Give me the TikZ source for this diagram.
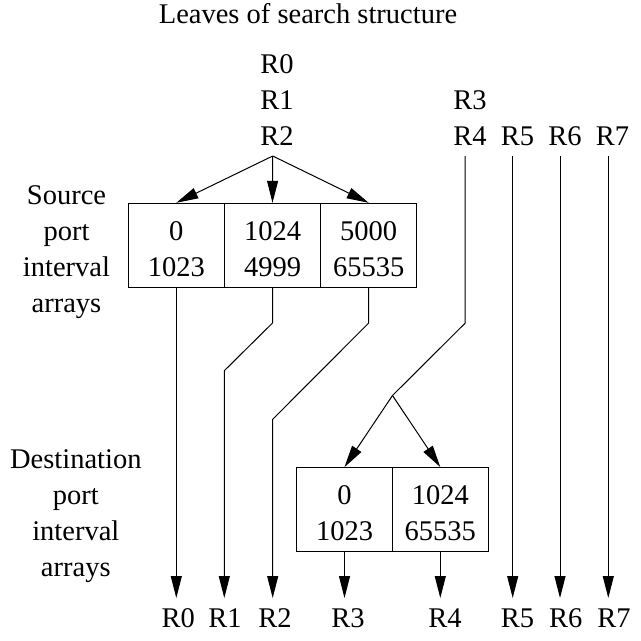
\documentclass[tikz,border=0pt]{standalone}
\usepackage{fontspec}
\setmainfont{Liberation Serif}
\usetikzlibrary{arrows.meta}
\begin{document}
\begin{tikzpicture}[x=1pt,y=-1pt,line width=1pt,
  every node/.style={font=\fontsize{28.5}{36}\selectfont,inner sep=0pt},
  lbl/.style={anchor=base},
  cell/.style={draw,minimum width=96pt,minimum height=84pt,align=center,text height=62.5pt},
  arr/.style={-{Triangle[length=22pt,width=11pt]}}]
\useasboundingbox (0,0) rectangle (641,641);
% title
\node[lbl] (title) at (308,23.3) {Leaves of search structure};
% top labels
\node[lbl] (r0) at (277,73) {R0};
\node[lbl] (r1) at (277,109) {R1};
\node[lbl] (r2) at (277,145) {R2};
\node[lbl] (r3) at (470,109) {R3};
\node[lbl] (r4) at (470,145) {R4};
\node[lbl] (r5) at (517.5,145) {R5};
\node[lbl] (r6) at (565,145) {R6};
\node[lbl] (r7) at (612.5,145) {R7};
% left labels
\node[lbl] (sa) at (66.5,204.5) {Source};
\node[lbl] (sb) at (66.5,240.5) {port};
\node[lbl] (sc) at (66.5,276.5) {interval};
\node[lbl] (sd) at (66.5,312.5) {arrays};
\node[lbl] (da) at (75.8,468.3) {Destination};
\node[lbl] (db) at (75.8,504.3) {port};
\node[lbl] (dc) at (75.8,540.3) {interval};
\node[lbl] (dd) at (75.8,576.3) {arrays};
% source cells
\node[cell] (s1) at (176.3,245.3) {0\\1023};
\node[cell] (s2) at (272.5,245.3) {1024\\4999};
\node[cell] (s3) at (368.7,245.3) {5000\\65535};
% destination cells
\node[cell] (d1) at (344.5,509.6) {0\\1023};
\node[cell] (d2) at (440.3,509.6) {1024\\65535};
% bottom labels
\node[lbl] (b0) at (178.3,627) {R0};
\node[lbl] (b1) at (225,627) {R1};
\node[lbl] (b2) at (275,627) {R2};
\node[lbl] (b3) at (348,627) {R3};
\node[lbl] (b4) at (445,627) {R4};
\node[lbl] (b5) at (517.5,627) {R5};
\node[lbl] (b6) at (565.7,627) {R6};
\node[lbl] (b7) at (614,627) {R7};
% coordinates
\coordinate (f1) at (272.7,156);
\coordinate (g4) at (465,156);
\coordinate (g5) at (512.7,156);
\coordinate (g6) at (560,156);
\coordinate (g7) at (608.3,156);
\coordinate (k1) at (272.5,323);
\coordinate (k2) at (224.3,370.7);
\coordinate (k3) at (368.7,323);
\coordinate (k4) at (272.7,419.3);
\coordinate (k5) at (465,323.3);
\coordinate (f2) at (392.5,395.5);
\coordinate (t0) at (176.3,598);
\coordinate (t1) at (224.3,598);
\coordinate (t2) at (272.7,598);
\coordinate (t3) at (344.5,598);
\coordinate (t4) at (440.3,598);
\coordinate (t5) at (512.7,598);
\coordinate (t6) at (560,598);
\coordinate (t7) at (608.3,598);
% connectors
\draw[arr] (f1) -- (s1.north);
\draw[arr] (f1) -- (s2.north);
\draw[arr] (f1) -- (s3.north);
\draw[arr] (s1.south) -- (t0);
\draw[arr] (s2.south) -- (k1) -- (k2) -- (t1);
\draw[arr] (s3.south) -- (k3) -- (k4) -- (t2);
\draw (g4) -- (k5) -- (f2);
\draw[arr] (f2) -- (d1.north);
\draw[arr] (f2) -- (d2.north);
\draw[arr] (d1.south) -- (t3);
\draw[arr] (d2.south) -- (t4);
\draw[arr] (g5) -- (t5);
\draw[arr] (g6) -- (t6);
\draw[arr] (g7) -- (t7);
\end{tikzpicture}
\end{document}
